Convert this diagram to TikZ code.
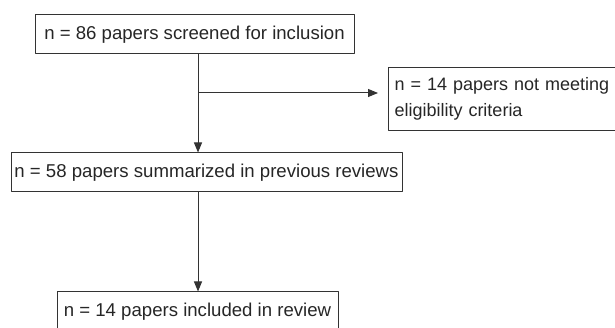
\documentclass[tikz,border=0pt]{standalone}
\usepackage{fontspec}
\setmainfont{Liberation Sans}
\usepackage{tikz}
\usetikzlibrary{arrows.meta}
\tikzset{box/.style={draw=black!80, line width=1pt, inner sep=0pt, font=\fontsize{18.6}{26}\selectfont, text=black!85}}
\tikzset{arr/.style={draw=black!80, line width=1pt, -{Triangle[length=10pt,width=8pt]}}}

\begin{document}
\begin{tikzpicture}[x=1pt, y=-1pt, line join=round]
            \useasboundingbox (0,0) rectangle (615,328);
            \clip (0,0) rectangle (615,328);
            \node[box, minimum width=319pt, minimum height=39pt] (screened) at (194.5,34.5) {n = 86 papers screened for inclusion};
            \node[box, font=\fontsize{18}{26}\selectfont, anchor=north west, minimum height=63pt, text width=250pt, inner xsep=6pt, align=left] (excluded) at (388,67) {n = 14 papers not meeting\\eligibility criteria};
            \node[box, minimum width=391pt, minimum height=39pt] (summarized) at (206.5,172.5) {n = 58 papers summarized in previous reviews};
            \node[box, minimum width=281pt, minimum height=39pt] (included) at (197.5,311.5) {n = 14 papers included in review};
            \coordinate (trunk) at (198,0);
            \coordinate (split) at (198,93);
            \draw[arr] (screened.south -| trunk) -- (summarized.north -| trunk);
            \draw[arr] (split) -- ([xshift=-10pt]split -| excluded.west);
            \draw[arr] (summarized.south -| trunk) -- (included.north -| trunk);
          \end{tikzpicture}
\end{document}
